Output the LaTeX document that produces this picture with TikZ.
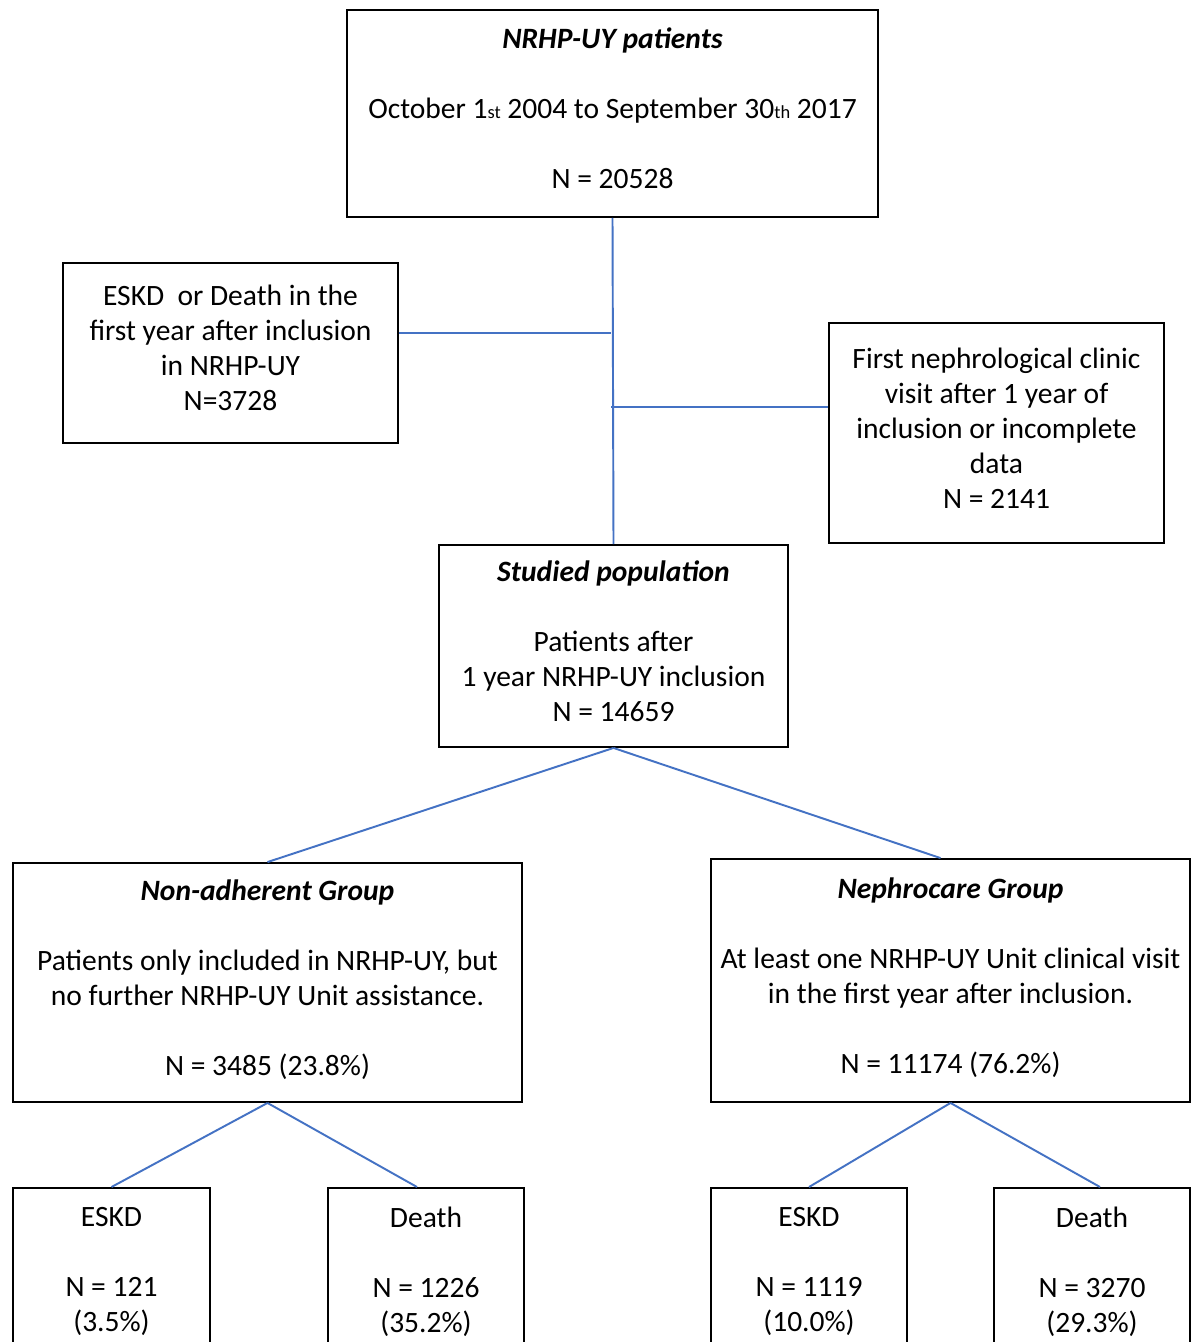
\documentclass[tikz,border=0pt]{standalone}
\usepackage{fontspec}
\setmainfont{Carlito}
\usepackage{tikz}
\usetikzlibrary{positioning}
\definecolor{linkblue}{HTML}{4472C4}
\newcommand{\gap}{\\[0.7cm]}
\newcommand{\sml}[1]{{\fontsize{10.5}{10.5}\selectfont #1}}
\tikzset{
  box/.style={draw=black, line width=1.1pt, align=center, inner sep=2pt,
    font=\fontsize{16.8}{19.92}\selectfont,
    execute at end node={\rule[-0.2cm]{0pt}{0pt}}},
  endbox/.style={box, anchor=north, inner ysep=0.38cm, minimum width=3.92cm},
  link/.style={draw=linkblue, line width=1.1pt}
}
\begin{document}
\begin{tikzpicture}[x=0.02cm, y=-0.02cm]
  \fill[white] (0,0) rectangle (1196,1342);
  \useasboundingbox (0,0) rectangle (1196,1342);

  \node[box, minimum width=10.62cm, minimum height=4.14cm] (all) at (612.5,113.5)
    {\textbf{\textit{NRHP-UY patients}}\gap
     October 1\sml{st} 2004 to September 30\sml{th} 2017\gap
     N = 20528\rule[-0.12cm]{0pt}{0pt}};
  \node[box, minimum width=6.7cm, minimum height=3.6cm] (exclA) at (230.5,353)
    {ESKD~ or Death in the\\ first year after inclusion\\ in NRHP-UY\\ N=3728};
  \node[box, minimum width=6.7cm, minimum height=4.4cm] (exclB) at (996.5,433)
    {First nephrological clinic\\ visit after 1 year of\\ inclusion or incomplete\\ data\\ N = 2141};
  \node[box, minimum width=6.98cm, minimum height=4.04cm] (study) at (613.5,646)
    {\textbf{\textit{Studied population}}\gap
     Patients after\\ 1 year NRHP-UY inclusion\\ N = 14659};

  \node[box, minimum width=10.18cm, minimum height=4.78cm] (nonadh) at (267.5,982.5)
    {\textbf{\textit{Non-adherent Group}}\gap
     Patients only included in NRHP-UY, but\\ no further NRHP-UY Unit assistance.\gap
     N = 3485 (23.8\%)};
  \node[box, minimum width=9.58cm, minimum height=4.86cm] (neph) at (950.5,980.5)
    {\textbf{\textit{Nephrocare Group}}\gap
     At least one NRHP-UY Unit clinical visit\\ in the first year after inclusion.\gap
     N = 11174 (76.2\%)};

  \node[endbox, minimum width=3.94cm] (eskdA) at (111.5,1187)
    {ESKD\gap N = 121\\ (3.5\%)\\ \mbox{}};
  \node[endbox] (deathA) at (426,1187)
    {Death\gap N = 1226\\ (35.2\%)\\ \mbox{}};
  \node[endbox] (eskdB) at (809,1187)
    {ESKD\gap N = 1119\\ (10.0\%)\\ \mbox{}};
  \node[endbox] (deathB) at (1092,1187)
    {Death\gap N = 3270\\ (29.3\%)\\ \mbox{}};

  % exclusions branch off the trunk
  \coordinate (jA) at (611,333);
  \coordinate (jB) at (611,407);
  \draw[link] (all.south) -- (study.north);
  \draw[link] (exclA.east |- jA) -- (jA);
  \draw[link] (jB) -- (exclB.west |- jB);

  \draw[link] (study.south) -- (nonadh.north);
  \draw[link] (study.south) -- ([xshift=-0.2cm]neph.north);
  \draw[link] (nonadh.south) -- (eskdA.north);
  \draw[link] (nonadh.south) -- ([xshift=-0.18cm]deathA.north);
  \draw[link] (neph.south) -- (eskdB.north);
  \draw[link] (neph.south) -- ([xshift=0.16cm]deathB.north);
\end{tikzpicture}
\end{document}
